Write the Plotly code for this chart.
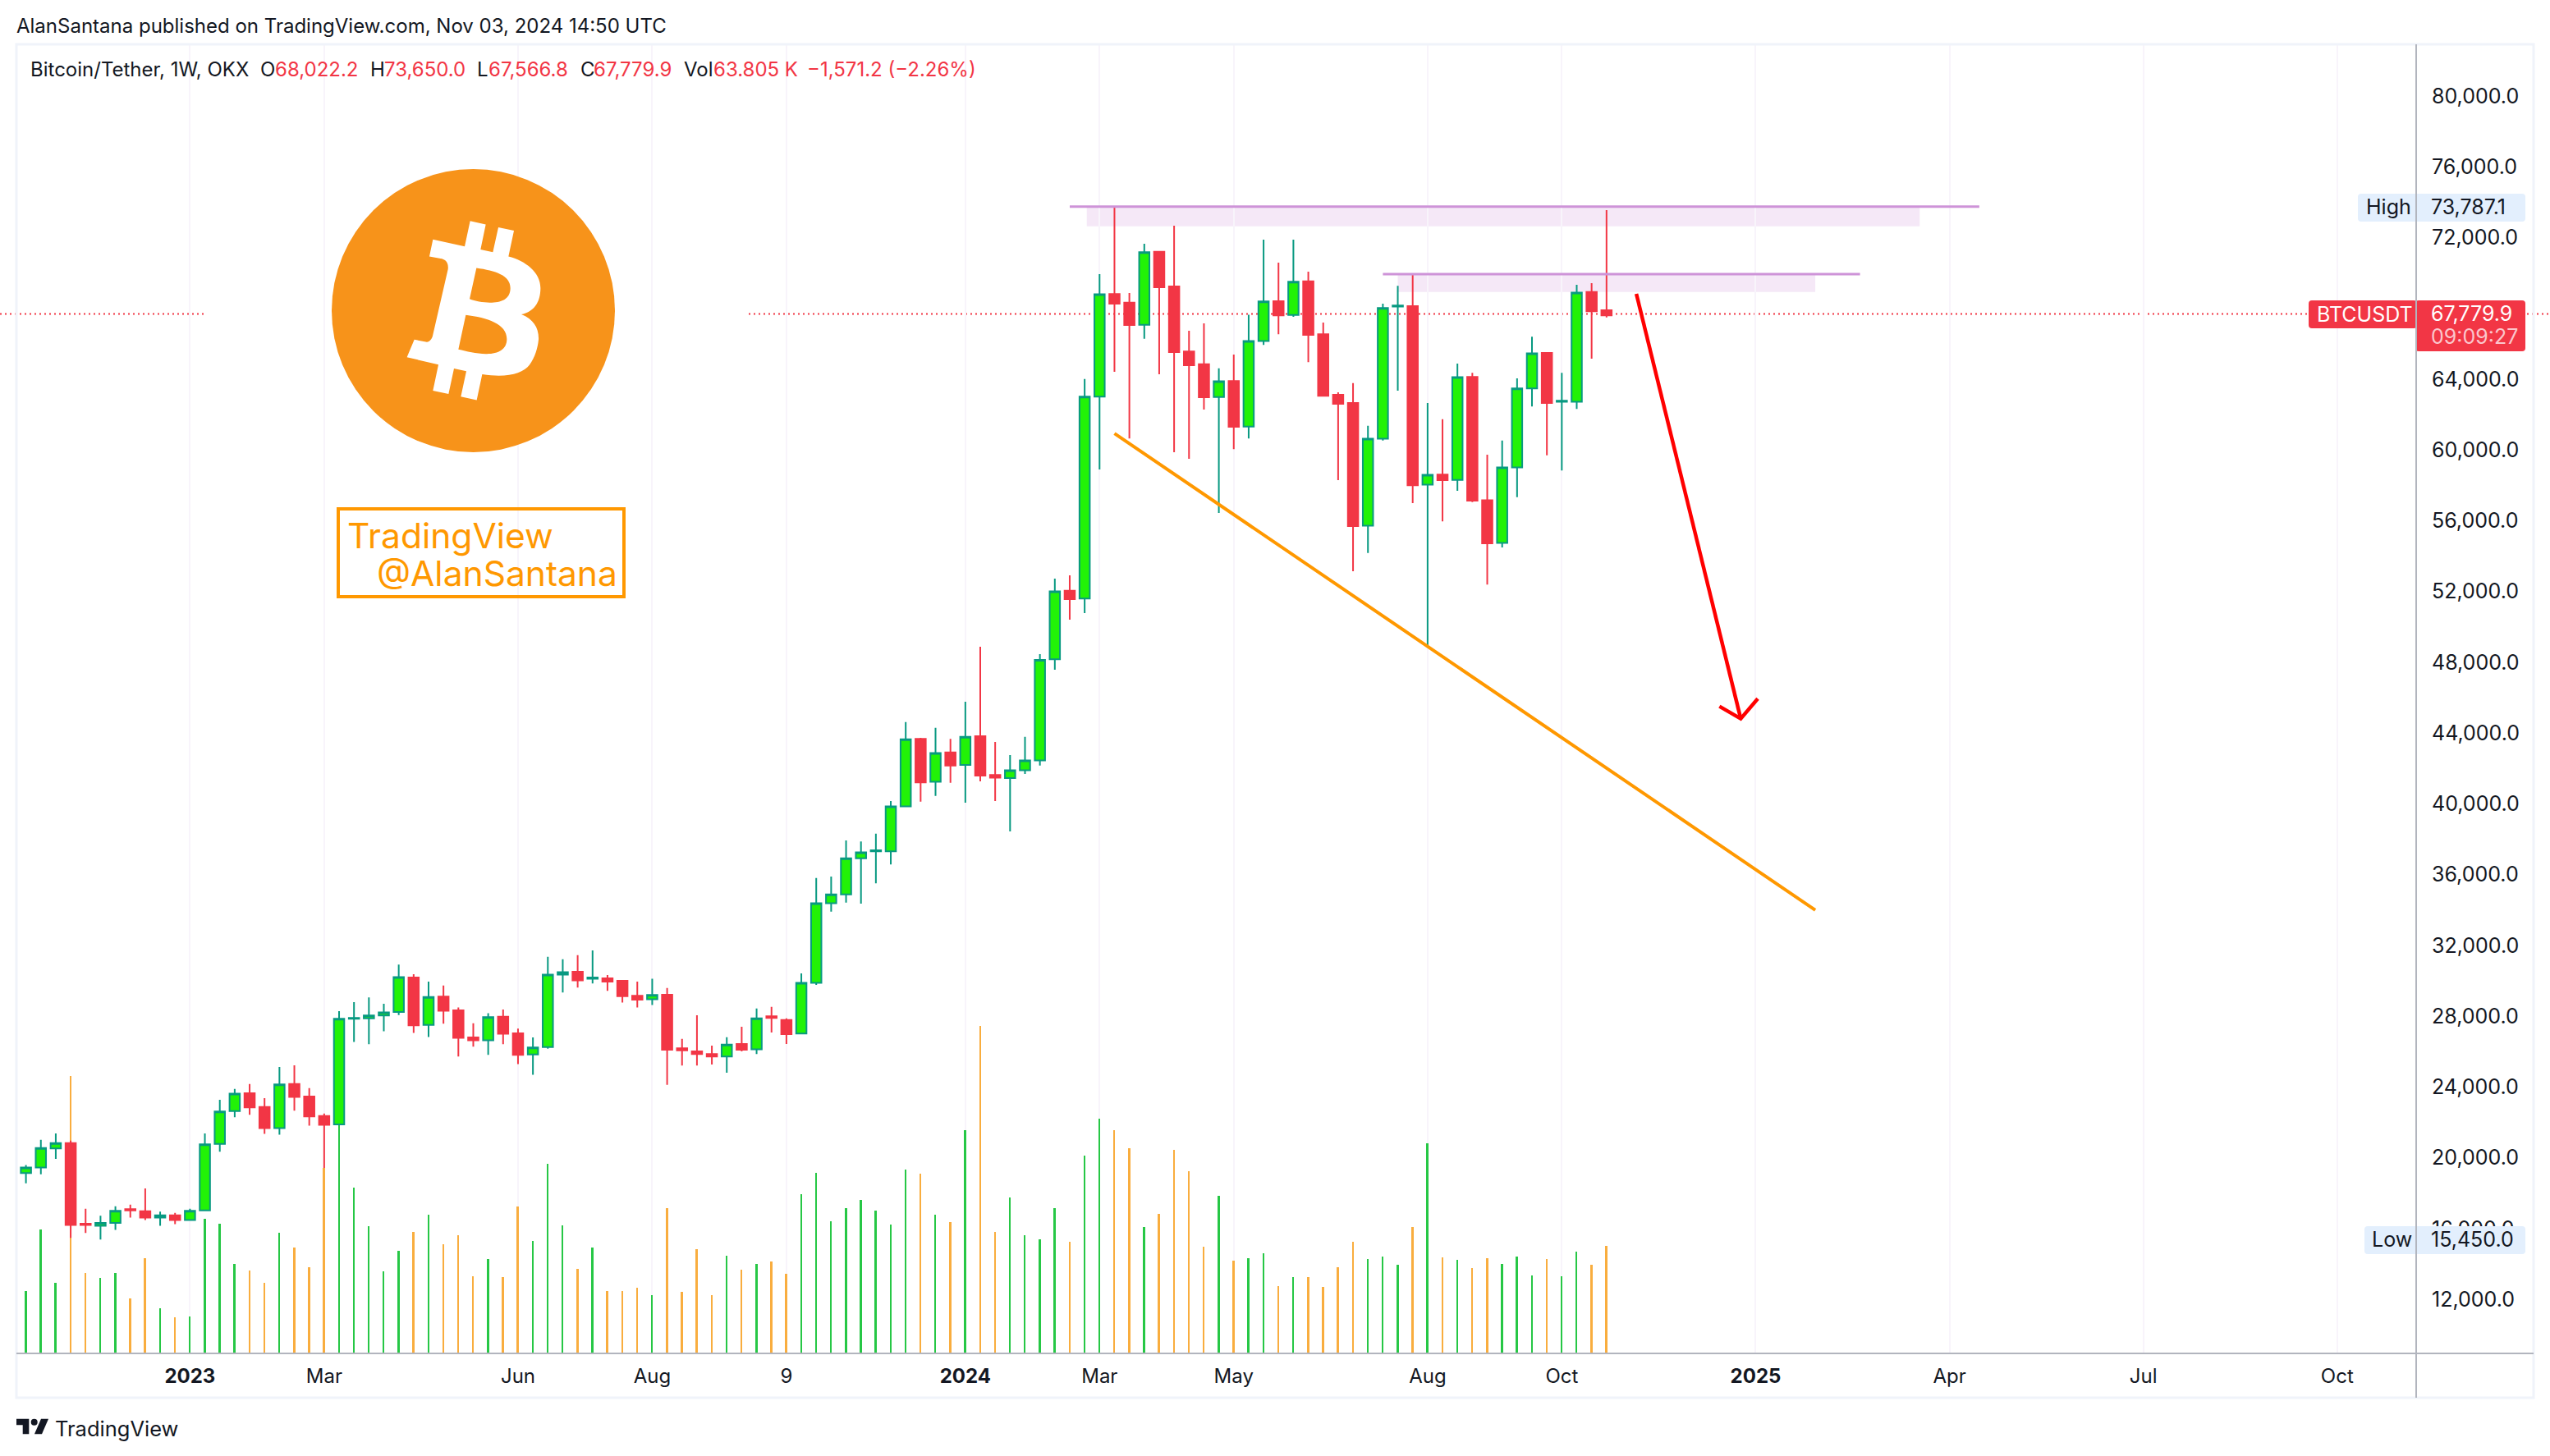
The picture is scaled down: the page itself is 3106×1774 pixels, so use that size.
import pandas as pd
import plotly.graph_objects as go

W = 3106
H = 1774

# weekly candles, first one is almost outside the chart on the left
datas = pd.date_range("2022-10-10", periods=108, freq="7D")

opens = [19360, 19132, 19452, 20528, 20826, 16270, 16156, 16316, 17094, 16980, 16614, 16751, 16476, 17026, 20780, 22634, 23641, 22863, 21672, 24167, 23458, 22359, 21878, 27853, 27876, 28036, 28242, 30188, 27509, 29112, 28333, 26800, 26640, 27967, 27029, 25838, 26250, 30348, 30508, 30119, 30142, 30004, 29158, 28951, 29207, 26190, 26013, 25865, 25717, 26427, 26131, 27994, 27787, 27018, 29888, 34384, 34887, 36928, 37312, 37312, 39856, 43672, 41246, 42903, 42193, 43820, 41631, 41453, 41897, 42459, 48168, 52043, 51598, 63011, 68815, 68318, 67076, 71194, 69241, 65567, 64839, 62993, 63898, 61325, 66153, 68407, 67626, 69525, 66543, 63117, 62656, 55716, 60632, 68105, 68123, 58041, 58609, 58307, 64129, 57153, 54739, 59017, 63472, 65478, 62727, 62727, 68922, 67892]
highs = [19400, 19589, 21009, 21375, 20963, 17117, 16728, 17255, 17346, 18262, 16957, 16888, 17117, 21375, 23275, 23893, 24167, 23366, 25129, 25220, 23939, 22497, 28288, 28791, 29066, 28700, 30920, 30371, 29959, 29730, 28494, 27601, 28173, 28379, 27303, 26800, 31355, 31218, 31447, 31721, 30325, 30004, 29959, 30119, 29592, 26723, 28054, 26338, 26811, 27403, 28438, 28527, 27876, 30420, 35804, 35892, 37933, 37874, 38318, 40152, 44618, 43731, 44293, 43672, 45772, 48878, 43494, 42755, 43790, 48464, 52723, 52911, 64005, 69933, 73714, 68868, 71655, 71194, 72667, 66738, 67147, 64608, 65389, 67644, 71886, 70590, 71886, 70075, 67200, 63259, 63774, 61360, 68265, 69277, 69933, 62656, 61733, 64875, 64360, 59727, 60526, 64040, 66401, 65531, 64360, 69330, 69419, 73554]
lows = [19000, 18559, 19063, 19933, 15469, 15744, 15378, 15927, 16614, 16476, 16156, 16248, 16476, 17026, 20345, 22291, 22428, 21352, 21306, 22657, 21810, 19429, 21878, 26548, 26411, 27143, 28059, 27052, 26823, 27578, 25724, 26273, 25816, 26411, 25289, 24694, 26159, 29341, 29615, 29844, 29432, 28768, 28494, 28631, 24119, 25214, 25214, 25273, 24800, 26013, 25865, 27077, 26427, 27018, 29769, 33910, 34413, 34354, 35508, 36573, 39856, 40122, 40448, 41187, 40063, 41276, 40152, 38436, 41690, 42163, 47576, 50408, 50781, 58893, 64413, 60650, 66277, 64271, 59869, 59496, 62283, 56443, 60047, 60650, 65940, 66543, 67519, 64963, 63011, 58289, 53142, 54171, 60526, 63348, 56994, 48864, 55964, 57686, 57047, 52396, 54491, 57331, 62461, 59692, 58840, 62319, 65159, 67484]
closes = [19130, 19452, 20551, 20826, 16202, 16202, 16316, 17003, 17026, 16614, 16751, 16476, 17003, 20757, 22611, 23618, 22840, 21672, 24145, 23435, 22336, 21856, 27853, 27899, 28036, 28219, 30210, 27487, 29089, 28311, 26777, 26640, 27944, 27006, 25816, 26228, 30348, 30485, 30027, 30188, 29959, 29135, 28929, 29203, 26101, 26072, 25865, 25717, 26397, 26101, 27876, 27906, 26989, 29888, 34384, 34887, 36928, 37253, 37371, 39856, 43642, 41217, 42873, 42163, 43790, 41601, 41483, 41897, 42459, 48138, 52013, 51570, 63011, 68797, 68265, 67058, 71176, 69188, 65531, 64786, 62975, 63881, 61307, 66153, 68389, 67608, 69507, 66508, 63064, 62603, 55698, 60632, 68016, 68158, 58005, 58591, 58289, 64111, 57136, 54722, 59017, 63472, 65460, 62656, 62780, 68886, 67839, 67608]
volumes = [40000, 37099, 73715, 41917, 165017, 47939, 45048, 47939, 32762, 56612, 26981, 21440, 21922, 79979, 77088, 53239, 49385, 41917, 71788, 63116, 51312, 110000, 140000, 98528, 75643, 48903, 60948, 72270, 82629, 65043, 70343, 46012, 56130, 45530, 87447, 66970, 112741, 76124, 50348, 63116, 37099, 37099, 39026, 34690, 86514, 36722, 61929, 34543, 58194, 49792, 53215, 54771, 47302, 94605, 107364, 78422, 86514, 91182, 84958, 76555, 109231, 106742, 82468, 78111, 132571, 194811, 72198, 92738, 70331, 67842, 86514, 66219, 117469, 139434, 132601, 121862, 75005, 82814, 120886, 108196, 63290, 93553, 54993, 56457, 59386, 39862, 45231, 45231, 39373, 51088, 66219, 55969, 57433, 52552, 75005, 124791, 56945, 55481, 50600, 56457, 53040, 57433, 46207, 55969, 45719, 60362, 52552, 63805]

# eixo x e eixo de preco
tick_datas = ["2023-01-02", "2023-03-06", "2023-06-05", "2023-08-07", "2023-10-09", "2024-01-01", "2024-03-04", "2024-05-06", "2024-08-05", "2024-10-07", "2025-01-06", "2025-04-07", "2025-07-07", "2025-10-06"]
tick_textos = ["<b>2023</b>", "Mar", "Jun", "Aug", "9", "<b>2024</b>", "Mar", "May", "Aug", "Oct", "<b>2025</b>", "Apr", "Jul", "Oct"]
precos_ticks = [12000, 16000, 20000, 24000, 28000, 32000, 36000, 40000, 44000, 48000, 52000, 56000, 60000, 64000, 72000, 76000, 80000]

# desenhos do autor
topo1_x = ["2024-02-19", "2025-04-21"]
topo1_y = [73750, 73750]
caixa1_x = ["2024-02-27", "2025-03-24"]
caixa1_y = [72632, 73750]
topo2_x = ["2024-07-15", "2025-02-24"]
topo2_y = [69933, 69933]
caixa2_x = ["2024-07-22", "2025-02-03"]
caixa2_y = [68922, 69933]
suporte_x = ["2024-03-11", "2025-02-03"]
suporte_y = [60934, 33993]
seta_x = ["2024-11-11", "2024-12-30", None, "2024-12-20", "2024-12-30", "2025-01-07"]
seta_y = [68822, 44812, None, 45509, 44812, 45940]

linha_preco = 67680

VERDE = "#22f207"
VERDE_LINHA = "#089981"
VERMELHO = "#f23645"
TEXTO = "#131722"
FONTE = "Inter"

cores_vol = ["#26c745" if c >= o else "#f9ad3e" for o, c in zip(opens, closes)]

fig = go.Figure()

fig.add_trace(go.Bar(x=datas, y=volumes, marker=dict(color=cores_vol, line=dict(width=0)),
                     width=65000000, yaxis="y"))

fig.add_trace(go.Candlestick(
    x=datas, open=opens, high=highs, low=lows, close=closes, yaxis="y2",
    increasing=dict(line=dict(color=VERDE_LINHA, width=2), fillcolor=VERDE),
    decreasing=dict(line=dict(color=VERMELHO, width=2), fillcolor=VERMELHO),
    whiskerwidth=0,
))

fig.add_trace(go.Scatter(x=topo1_x, y=topo1_y, mode="lines", yaxis="y2", line=dict(color="#ce93d8", width=3)))
fig.add_trace(go.Scatter(x=topo2_x, y=topo2_y, mode="lines", yaxis="y2", line=dict(color="#ce93d8", width=3)))
fig.add_trace(go.Scatter(x=suporte_x, y=suporte_y, mode="lines", yaxis="y2", line=dict(color="#ff9800", width=4)))
fig.add_trace(go.Scatter(x=seta_x, y=seta_y, mode="lines", yaxis="y2", line=dict(color="#ff0000", width=4.5)))


# pixel da foto para coordenada do papel
def px(x):
    return x / W


def py(y):
    return 1 - y / H


def caminho(pontos):
    return " ".join(f"{c}{px(x):.5f},{py(y):.5f}" for c, x, y in pontos)


def caixa_redonda(x0, y0, x1, y1, cor, r=4, layer="above"):
    p = (f"M{px(x0 + r):.5f},{py(y0):.5f} L{px(x1 - r):.5f},{py(y0):.5f} "
         f"Q{px(x1):.5f},{py(y0):.5f} {px(x1):.5f},{py(y0 + r):.5f} "
         f"L{px(x1):.5f},{py(y1 - r):.5f} Q{px(x1):.5f},{py(y1):.5f} {px(x1 - r):.5f},{py(y1):.5f} "
         f"L{px(x0 + r):.5f},{py(y1):.5f} Q{px(x0):.5f},{py(y1):.5f} {px(x0):.5f},{py(y1 - r):.5f} "
         f"L{px(x0):.5f},{py(y0 + r):.5f} Q{px(x0):.5f},{py(y0):.5f} {px(x0 + r):.5f},{py(y0):.5f} Z")
    fig.add_shape(type="path", path=p, xref="paper", yref="paper", fillcolor=cor, line_width=0, layer=layer)


def texto(x, y, txt, size=24, cor=TEXTO, anchor="left"):
    fig.add_annotation(x=px(x), y=py(y), xref="paper", yref="paper", text=txt, showarrow=False,
                       xanchor=anchor, yanchor="middle", borderpad=0, borderwidth=0,
                       font=dict(family=FONTE, size=size, color=cor))


# zonas roxas e linha do preco, tudo abaixo dos candles
fig.add_shape(type="rect", x0=caixa1_x[0], x1=caixa1_x[1], y0=caixa1_y[0], y1=caixa1_y[1], xref="x", yref="y2",
              fillcolor="#f5e8f7", line_width=0, layer="below")
fig.add_shape(type="rect", x0=caixa2_x[0], x1=caixa2_x[1], y0=caixa2_y[0], y1=caixa2_y[1], xref="x", yref="y2",
              fillcolor="#f5e8f7", line_width=0, layer="below")
fig.add_shape(type="line", x0=0, x1=1, y0=linha_preco, y1=linha_preco, xref="paper", yref="y2",
              line=dict(color=VERMELHO, width=2, dash="2px,4px"), layer="below")
# fundo branco da imagem do logo
fig.add_shape(type="rect", x0="2023-01-09", x1="2023-09-20", y0=52739, y1=81300, xref="x", yref="y2",
              fillcolor="white", line_width=0, layer="below")

# logo bitcoin
fig.add_shape(type="circle", xref="paper", yref="paper", x0=px(404), x1=px(749), y0=py(206), y1=py(551),
              fillcolor="#f7931a", line_width=0)


def bx(z):
    return 340 + z / 3


def by(z):
    return 180 + z / 2.703


def seg(cmd, *zs):
    partes = []
    for k in range(0, len(zs), 2):
        partes.append(f"{px(bx(zs[k])):.5f},{py(by(zs[k + 1])):.5f}")
    return cmd + " ".join(partes)


logo_b = " ".join([
    seg("M", 562, 302), seg("L", 678, 325), seg("L", 698, 241), seg("L", 755, 253), seg("L", 736, 335),
    seg("L", 781, 344), seg("L", 801, 262), seg("L", 858, 273), seg("L", 838, 358),
    seg("C", 900, 372, 955, 410, 955, 462), seg("C", 955, 510, 930, 540, 885, 549),
    seg("C", 930, 565, 950, 595, 948, 632), seg("C", 945, 660, 935, 690, 915, 715),
    seg("C", 890, 745, 830, 758, 742, 746), seg("L", 722, 831), seg("L", 664, 820), seg("L", 684, 736),
    seg("L", 639, 727), seg("L", 619, 811), seg("L", 562, 800), seg("L", 582, 714), seg("L", 467, 690),
    seg("L", 494, 632), seg("L", 540, 640), seg("C", 550, 640, 558, 630, 561, 620), seg("L", 617, 400),
    seg("C", 620, 375, 605, 367, 590, 365), seg("L", 549, 358), "Z",
    seg("M", 721, 396), seg("C", 790, 405, 845, 420, 845, 462), seg("C", 845, 500, 810, 510, 770, 510),
    seg("C", 745, 510, 715, 505, 696, 498), "Z",
    seg("M", 682, 551), seg("C", 760, 560, 832, 580, 832, 630), seg("C", 832, 665, 800, 680, 755, 679),
    seg("C", 720, 678, 685, 670, 655, 664), "Z",
])
fig.add_shape(type="path", path=logo_b, xref="paper", yref="paper", fillcolor="white", fillrule="evenodd", line_width=0)

# caixa TradingView @AlanSantana
fig.add_shape(type="rect", xref="paper", yref="paper", x0=px(412), x1=px(760), y0=py(620), y1=py(727),
              line=dict(color="#ff9800", width=4))
texto(423, 653, "TradingView", 42.5, "#ff9800")
texto(459, 698, "@AlanSantana", 42.5, "#ff9800")

# etiquetas do eixo de preco
caixa_redonda(2872, 236, 3076, 270, "#e3effd")
caixa_redonda(2880, 1494, 3076, 1528, "#e3effd")
caixa_redonda(2812, 366, 2944, 400, VERMELHO)
caixa_redonda(2942, 366, 3076, 428, VERMELHO)

# moldura e eixos
fig.add_shape(type="rect", xref="paper", yref="paper", x0=px(20), x1=px(3086), y0=py(54), y1=py(1703),
              line=dict(color="#f0f3fa", width=3))
fig.add_shape(type="line", xref="paper", yref="paper", x0=px(2943), x1=px(2943), y0=py(54), y1=py(1703),
              line=dict(color="#b2b5be", width=2))
fig.add_shape(type="line", xref="paper", yref="paper", x0=px(20), x1=px(3086), y0=py(1649), y1=py(1649),
              line=dict(color="#b2b5be", width=2))

# logo TradingView no rodape
fig.add_shape(type="path", xref="paper", yref="paper", fillcolor=TEXTO, line_width=0, path=caminho([
    ("M", 20, 1728.7), ("L", 35.3, 1728.7), ("L", 35.3, 1747.3), ("L", 27.7, 1747.3), ("L", 27.7, 1736.3), ("L", 20, 1736.3)]) + " Z")
fig.add_shape(type="circle", xref="paper", yref="paper", x0=px(37.7), x1=px(45.7), y0=py(1728.7), y1=py(1736.7),
              fillcolor=TEXTO, line_width=0)
fig.add_shape(type="path", xref="paper", yref="paper", fillcolor=TEXTO, line_width=0, path=caminho([
    ("M", 50, 1728.7), ("L", 59, 1728.7), ("L", 51, 1747.3), ("L", 42, 1747.3)]) + " Z")
texto(67, 1740, "TradingView", 25.5)

# textos do cabecalho
texto(20, 31, "AlanSantana published on TradingView.com, Nov 03, 2024 14:50 UTC", 24)
texto(37, 85, "Bitcoin/Tether, 1W, OKX", 24)
legenda = [(317, "O", TEXTO), (335, "68,022.2", VERMELHO), (451, "H", TEXTO), (468, "73,650.0", VERMELHO),
           (581, "L", TEXTO), (595, "67,566.8", VERMELHO), (707, "C", TEXTO), (723, "67,779.9", VERMELHO),
           (833, "Vol", TEXTO), (869, "63.805 K", VERMELHO), (983, "−1,571.2 (−2.26%)", VERMELHO)]
for x_leg, txt_leg, cor_leg in legenda:
    texto(x_leg, 85, txt_leg, 24, cor_leg)

# textos das etiquetas
texto(2882, 252, "High", 25, TEXTO)
texto(2961, 252, "73,787.1", 25, TEXTO)
texto(2889, 1510, "Low", 25, TEXTO)
texto(2961, 1510, "15,450.0", 25, TEXTO)
texto(2822, 383, "BTCUSDT", 25, "white")
texto(2961, 382, "67,779.9", 25, "white")
texto(2961, 410, "09:09:27", 25, "#fbc6cc")

fig.update_layout(
    width=W, height=H, margin=dict(l=0, r=0, t=0, b=0),
    paper_bgcolor="white", plot_bgcolor="white", showlegend=False,
    boxgap=0.31, boxgroupgap=0, bargap=0,
    font=dict(family=FONTE, size=25, color=TEXTO),
    xaxis=dict(
        domain=[px(20), px(2943)], type="date", range=["2022-10-12 12:40", "2025-11-12 02:00"],
        rangeslider=dict(visible=False), tickmode="array", tickvals=tick_datas, ticktext=tick_textos,
        showgrid=True, gridcolor="#f8f4fb", gridwidth=2, ticks="", showline=False, zeroline=False,
        ticklabelstandoff=11, tickfont=dict(family=FONTE, size=24, color=TEXTO),
    ),
    yaxis=dict(domain=[py(1649), py(54)], range=[0, 778000], visible=False, fixedrange=True),
    yaxis2=dict(
        overlaying="y", side="right", anchor="x", range=[8942, 82922], tickmode="array", tickvals=precos_ticks,
        tickformat=",.1f", showgrid=False, zeroline=False, ticks="", showline=False, ticklabelstandoff=18,
        tickfont=dict(family=FONTE, size=25, color=TEXTO),
    ),
)

fig.write_html("out.html", config={"displayModeBar": False}, post_script="document.body.style.margin='0';")
